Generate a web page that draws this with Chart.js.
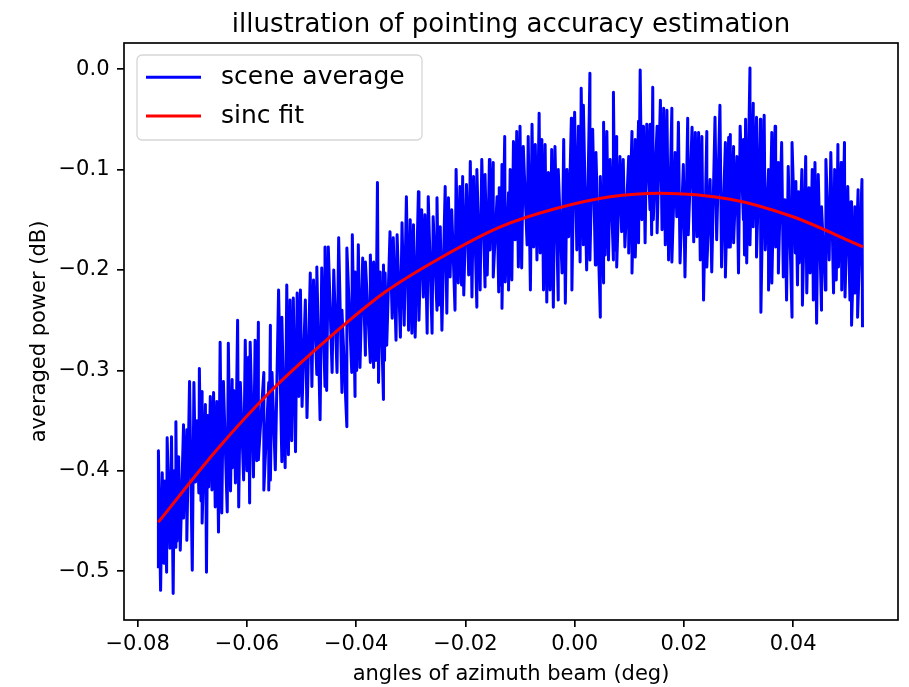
<!DOCTYPE html>
<html><head><meta charset="utf-8">
<script src="https://cdn.jsdelivr.net/npm/chart.js@4.4.1/dist/chart.umd.min.js"></script>
<style>html,body{margin:0;padding:0;background:#fff;} canvas{display:block;}</style>
</head><body>
<canvas id="c" width="909" height="687"></canvas>
<script>
const chartTitle = 'illustration of pointing accuracy estimation';
const xAxisTitle = 'angles of azimuth beam (deg)';
const yAxisTitle = 'averaged power (dB)';
const seriesNames = ['scene average', 'sinc fit'];
const xTicks = [-0.08, -0.06, -0.04, -0.02, 0, 0.02, 0.04];
const xTickLabels = ['\u22120.08', '\u22120.06', '\u22120.04', '\u22120.02', '0.00', '0.02', '0.04'];
const yTicks = [0, -0.1, -0.2, -0.3, -0.4, -0.5];
const yTickLabels = ['0.0', '\u22120.1', '\u22120.2', '\u22120.3', '\u22120.4', '\u22120.5'];

// [angle (deg), averaged power (dB)]
const sceneAverage = [
[-0.0762,-0.497],[-0.0762,-0.380],[-0.0758,-0.519],[-0.0755,-0.402],[-0.0752,-0.492],[-0.0750,-0.410],[-0.0747,-0.501],[-0.0746,-0.367],[-0.0741,-0.477],[-0.0738,-0.366],
[-0.0735,-0.522],[-0.0733,-0.400],[-0.0731,-0.476],[-0.0730,-0.351],[-0.0728,-0.470],[-0.0725,-0.386],[-0.0722,-0.479],[-0.0716,-0.354],[-0.0716,-0.447],[-0.0710,-0.359],
[-0.0710,-0.469],[-0.0705,-0.311],[-0.0700,-0.499],[-0.0697,-0.312],[-0.0694,-0.411],[-0.0691,-0.350],[-0.0688,-0.422],[-0.0687,-0.298],[-0.0684,-0.430],[-0.0682,-0.321],
[-0.0682,-0.452],[-0.0676,-0.334],[-0.0674,-0.501],[-0.0672,-0.345],[-0.0670,-0.416],[-0.0667,-0.326],[-0.0664,-0.419],[-0.0661,-0.322],[-0.0658,-0.436],[-0.0655,-0.331],
[-0.0652,-0.461],[-0.0649,-0.272],[-0.0646,-0.442],[-0.0643,-0.311],[-0.0636,-0.441],[-0.0634,-0.273],[-0.0630,-0.420],[-0.0627,-0.309],[-0.0627,-0.397],[-0.0624,-0.320],
[-0.0621,-0.412],[-0.0617,-0.250],[-0.0615,-0.436],[-0.0612,-0.312],[-0.0606,-0.409],[-0.0603,-0.270],[-0.0600,-0.400],[-0.0597,-0.287],[-0.0595,-0.432],[-0.0594,-0.272],
[-0.0588,-0.406],[-0.0585,-0.270],[-0.0582,-0.390],[-0.0579,-0.252],[-0.0579,-0.389],[-0.0569,-0.302],[-0.0569,-0.419],[-0.0560,-0.312],[-0.0560,-0.419],
[-0.0557,-0.255],[-0.0557,-0.409],[-0.0554,-0.302],[-0.0548,-0.399],[-0.0542,-0.220],[-0.0536,-0.391],[-0.0536,-0.247],[-0.0530,-0.397],[-0.0527,-0.215],[-0.0524,-0.384],
[-0.0521,-0.230],[-0.0518,-0.370],[-0.0515,-0.228],[-0.0511,-0.381],[-0.0508,-0.223],[-0.0505,-0.326],[-0.0502,-0.220],[-0.0499,-0.336],[-0.0493,-0.230],[-0.0490,-0.347],
[-0.0484,-0.203],[-0.0481,-0.316],[-0.0478,-0.210],[-0.0472,-0.304],[-0.0472,-0.197],[-0.0466,-0.349],[-0.0463,-0.198],[-0.0457,-0.316],[-0.0457,-0.177],[-0.0454,-0.320],
[-0.0451,-0.177],[-0.0444,-0.302],[-0.0441,-0.200],[-0.0435,-0.302],[-0.0432,-0.168],[-0.0426,-0.322],[-0.0426,-0.240],[-0.0417,-0.356],[-0.0417,-0.178],[-0.0408,-0.302],
[-0.0407,-0.165],[-0.0402,-0.326],[-0.0402,-0.202],[-0.0399,-0.300],[-0.0396,-0.175],[-0.0393,-0.297],[-0.0388,-0.188],[-0.0383,-0.285],[-0.0383,-0.192],[-0.0374,-0.292],
[-0.0374,-0.185],[-0.0368,-0.297],[-0.0368,-0.192],[-0.0364,-0.290],[-0.0361,-0.113],[-0.0359,-0.312],[-0.0356,-0.202],[-0.0350,-0.329],[-0.0350,-0.195],
[-0.0348,-0.290],[-0.0347,-0.203],[-0.0344,-0.275],[-0.0338,-0.162],[-0.0334,-0.248],[-0.0332,-0.168],[-0.0327,-0.270],[-0.0325,-0.165],[-0.0319,-0.267],[-0.0316,-0.153],
[-0.0312,-0.255],[-0.0308,-0.127],[-0.0304,-0.260],[-0.0301,-0.150],[-0.0298,-0.263],[-0.0295,-0.155],[-0.0292,-0.267],[-0.0286,-0.122],[-0.0285,-0.250],[-0.0280,-0.140],
[-0.0277,-0.227],[-0.0274,-0.145],[-0.0270,-0.263],[-0.0268,-0.127],[-0.0261,-0.263],[-0.0259,-0.147],[-0.0252,-0.240],[-0.0252,-0.128],[-0.0249,-0.235],[-0.0246,-0.157],
[-0.0243,-0.260],[-0.0237,-0.117],[-0.0234,-0.243],[-0.0231,-0.128],[-0.0228,-0.207],[-0.0225,-0.140],[-0.0219,-0.240],[-0.0217,-0.100],[-0.0213,-0.213],[-0.0210,-0.117],
[-0.0207,-0.215],[-0.0205,-0.107],[-0.0203,-0.225],[-0.0198,-0.115],[-0.0194,-0.205],[-0.0191,-0.092],[-0.0188,-0.227],[-0.0185,-0.107],[-0.0179,-0.237],[-0.0179,-0.100],
[-0.0173,-0.220],[-0.0170,-0.090],[-0.0164,-0.217],[-0.0164,-0.105],[-0.0160,-0.205],[-0.0156,-0.090],[-0.0155,-0.180],[-0.0149,-0.093],[-0.0149,-0.207],[-0.0142,-0.127],
[-0.0139,-0.222],[-0.0138,-0.118],
[-0.0135,-0.215],[-0.0133,-0.095],[-0.0133,-0.238],[-0.0128,-0.067],[-0.0127,-0.212],[-0.0121,-0.123],[-0.0121,-0.220],[-0.0118,-0.100],[-0.0115,-0.210],[-0.0112,-0.072],
[-0.0109,-0.170],[-0.0106,-0.062],[-0.0103,-0.197],[-0.0100,-0.057],[-0.0097,-0.198],[-0.0094,-0.077],[-0.0087,-0.175],[-0.0085,-0.067],[-0.0081,-0.220],[-0.0078,-0.055],
[-0.0075,-0.177],[-0.0072,-0.075],[-0.0069,-0.190],[-0.0065,-0.044],[-0.0063,-0.183],[-0.0060,-0.070],[-0.0057,-0.220],[-0.0054,-0.075],[-0.0051,-0.232],[-0.0048,-0.103],
[-0.0045,-0.220],[-0.0042,-0.080],[-0.0039,-0.237],[-0.0036,-0.077],[-0.0030,-0.230],[-0.0030,-0.100],[-0.0023,-0.203],[-0.0020,-0.070],[-0.0017,-0.233],[-0.0014,-0.100],
[-0.0011,-0.167],[-0.0006,-0.049],[-0.0005,-0.220],[0.0000,-0.043],[0.0004,-0.180],[0.0007,-0.057],[0.0010,-0.192],[0.0012,-0.019],[0.0016,-0.175],[0.0016,-0.036],
[0.0022,-0.200],[0.0028,-0.004],[0.0028,-0.190],[0.0033,-0.060],[0.0038,-0.195],[0.0039,-0.083],[0.0047,-0.247],[0.0047,-0.107],[0.0053,-0.213],[0.0053,-0.053],
[0.0056,-0.185],[0.0059,-0.062],[0.0062,-0.190],[0.0065,-0.090],[0.0071,-0.190],[0.0071,-0.023],
[0.0074,-0.180],[0.0077,-0.067],[0.0077,-0.197],[0.0083,-0.087],[0.0086,-0.162],[0.0089,-0.090],[0.0092,-0.177],[0.0099,-0.087],[0.0099,-0.183],[0.0105,-0.062],
[0.0105,-0.203],[0.0111,-0.070],[0.0111,-0.187],[0.0117,-0.052],[0.0117,-0.173],[0.0120,-0.001],[0.0123,-0.150],[0.0126,-0.057],[0.0129,-0.173],[0.0132,-0.055],
[0.0138,-0.140],[0.0138,-0.055],[0.0141,-0.165],[0.0143,-0.018],[0.0144,-0.150],[0.0151,-0.057],[0.0151,-0.163],[0.0157,-0.031],[0.0160,-0.160],[0.0163,-0.039],
[0.0166,-0.175],[0.0169,-0.041],[0.0172,-0.190],[0.0178,-0.039],[0.0178,-0.192],[0.0184,-0.083],[0.0187,-0.147],[0.0190,-0.053],[0.0193,-0.193],[0.0199,-0.095],
[0.0202,-0.207],[0.0207,-0.049],[0.0208,-0.165],[0.0215,-0.058],[0.0218,-0.172],[0.0221,-0.063],[0.0224,-0.167],[0.0227,-0.063],[0.0230,-0.190],[0.0233,-0.067],
[0.0236,-0.230],[0.0242,-0.062],[0.0242,-0.197],[0.0248,-0.110],[0.0251,-0.202],[0.0257,-0.048],[0.0260,-0.170],[0.0266,-0.036],[0.0269,-0.197],[0.0276,-0.073],
[0.0276,-0.207],[0.0282,-0.068],[0.0282,-0.177],
[0.0285,-0.065],[0.0285,-0.177],[0.0291,-0.077],[0.0291,-0.173],[0.0297,-0.087],[0.0300,-0.203],[0.0303,-0.057],[0.0309,-0.150],[0.0309,-0.070],[0.0311,-0.185],
[0.0313,-0.050],[0.0315,-0.193],[0.0321,0.001],[0.0321,-0.175],[0.0327,-0.034],[0.0327,-0.157],[0.0333,-0.048],[0.0333,-0.187],[0.0340,-0.050],[0.0341,-0.242],
[0.0347,-0.046],[0.0349,-0.180],[0.0355,-0.100],[0.0355,-0.220],[0.0361,-0.063],[0.0361,-0.213],[0.0367,-0.057],[0.0368,-0.177],[0.0373,-0.093],[0.0373,-0.203],
[0.0379,-0.073],[0.0382,-0.207],[0.0385,-0.130],[0.0388,-0.230],[0.0391,-0.097],[0.0398,-0.247],[0.0398,-0.073],[0.0404,-0.183],[0.0405,-0.112],[0.0408,-0.215],
[0.0410,-0.122],[0.0411,-0.193],[0.0416,-0.100],[0.0417,-0.235],[0.0423,-0.087],[0.0425,-0.223],[0.0429,-0.118],[0.0431,-0.203],[0.0435,-0.100],[0.0437,-0.230],
[0.0440,-0.093],[0.0443,-0.253],[0.0446,-0.105],[0.0452,-0.240],[0.0452,-0.137],[0.0459,-0.220],[0.0460,-0.090],[0.0466,-0.190],[0.0469,-0.083],[0.0474,-0.223],
[0.0476,-0.100],[0.0479,-0.210],[0.0482,-0.075],[0.0483,-0.197],[0.0488,-0.093],[0.0489,-0.220],[0.0494,-0.073],[0.0495,-0.227],[0.0500,-0.117],[0.0504,-0.230],
[0.0506,-0.132],[0.0507,-0.255],[0.0513,-0.137],[0.0513,-0.223],[0.0519,-0.120],[0.0518,-0.247],[0.0526,-0.110],[0.0527,-0.257]
];

// fitted curve
const sincFit = [
[-0.0762,-0.451],[-0.0655,-0.379],[-0.0557,-0.321],[-0.0457,-0.271],[-0.0347,-0.222],
[-0.0246,-0.188],[-0.0136,-0.157],[-0.0036,-0.139],[0.0065,-0.127],[0.0156,-0.1235],
[0.0285,-0.1295],[0.0397,-0.1465],[0.0528,-0.177]
];

const FONT = '"DejaVu Sans", "Liberation Sans", sans-serif';
Chart.defaults.font.family = FONT;
Chart.defaults.color = '#000';

function labelFor(ticks, labels, v) {
  const i = ticks.findIndex(t => Math.abs(t - v) < 1e-9);
  return i >= 0 ? labels[i] : '';
}

const deco = {
  id: 'deco',
  afterDatasetsDraw(chart) {
    const ctx = chart.ctx, a = chart.chartArea;
    ctx.save();
    // frame
    ctx.strokeStyle = '#000';
    ctx.lineWidth = 1.67;
    ctx.strokeRect(a.left, a.top, a.right - a.left, a.bottom - a.top);
    // legend
    const lx = a.left + 13, ly = a.top + 12, lw = 285, lh = 85, r = 5;
    ctx.beginPath();
    ctx.moveTo(lx + r, ly);
    ctx.arcTo(lx + lw, ly, lx + lw, ly + lh, r);
    ctx.arcTo(lx + lw, ly + lh, lx, ly + lh, r);
    ctx.arcTo(lx, ly + lh, lx, ly, r);
    ctx.arcTo(lx, ly, lx + lw, ly, r);
    ctx.closePath();
    ctx.fillStyle = 'rgba(255,255,255,0.8)';
    ctx.fill();
    ctx.strokeStyle = '#d6d6d6';
    ctx.lineWidth = 1.3;
    ctx.stroke();
    chart.data.datasets.forEach((ds, i) => {
      const yy = ly + 22.3 + i * 38.7;
      ctx.beginPath();
      ctx.moveTo(lx + 9, yy);
      ctx.lineTo(lx + 64, yy);
      ctx.strokeStyle = ds.borderColor;
      ctx.lineWidth = 3;
      ctx.stroke();
      ctx.fillStyle = '#000';
      ctx.font = '25px ' + FONT;
      ctx.textAlign = 'left';
      ctx.textBaseline = 'middle';
      ctx.fillText(ds.label, lx + 84, yy);
    });
    // title
    ctx.font = '26px ' + FONT;
    ctx.textAlign = 'center';
    ctx.textBaseline = 'alphabetic';
    ctx.fillStyle = '#000';
    ctx.fillText(chartTitle, (a.left + a.right) / 2, 31.5);
    ctx.restore();
  }
};

new Chart(document.getElementById('c'), {
  type: 'line',
  data: {
    datasets: [
      {
        label: seriesNames[0],
        data: sceneAverage.map(p => ({ x: p[0], y: p[1] })),
        borderColor: '#0000ff',
        borderWidth: 3,
        pointRadius: 0,
        tension: 0,
        borderJoinStyle: 'round',
        fill: false,
        order: 2
      },
      {
        label: seriesNames[1],
        data: sincFit.map(p => ({ x: p[0], y: p[1] })),
        borderColor: '#ff0000',
        borderWidth: 3,
        pointRadius: 0,
        cubicInterpolationMode: 'monotone',
        fill: false,
        order: 1
      }
    ]
  },
  options: {
    responsive: false,
    animation: false,
    devicePixelRatio: 1,
    layout: { padding: { top: 43, right: 11, bottom: 0, left: 0 } },
    plugins: { legend: { display: false }, title: { display: false }, tooltip: { enabled: false } },
    scales: {
      x: {
        type: 'linear',
        min: -0.0825,
        max: 0.0592,
        afterBuildTicks: s => { s.ticks = xTicks.map(v => ({ value: v })); },
        afterFit: s => { s.height = 67; },
        ticks: {
          callback: v => labelFor(xTicks, xTickLabels, v),
          font: { size: 21 }, color: '#000', padding: 5, maxRotation: 0, autoSkip: false
        },
        grid: { display: true, drawOnChartArea: false, drawTicks: true, tickLength: 7, color: '#000', lineWidth: 1.67 },
        border: { display: false },
        title: { display: true, text: xAxisTitle, font: { size: 21 }, color: '#000', padding: { top: 0, bottom: 0 } }
      },
      y: {
        type: 'linear',
        min: -0.5485,
        max: 0.026,
        afterBuildTicks: s => { s.ticks = yTicks.map(v => ({ value: v })); },
        afterFit: s => { s.width = 124; },
        ticks: {
          callback: v => labelFor(yTicks, yTickLabels, v),
          font: { size: 21 }, color: '#000', padding: 7.5, autoSkip: false
        },
        grid: { display: true, drawOnChartArea: false, drawTicks: true, tickLength: 7, color: '#000', lineWidth: 1.67 },
        border: { display: false },
        title: { display: true, text: yAxisTitle, font: { size: 21 }, color: '#000', padding: { top: 27, bottom: 0 } }
      }
    }
  },
  plugins: [deco]
});
</script>
</body></html>
